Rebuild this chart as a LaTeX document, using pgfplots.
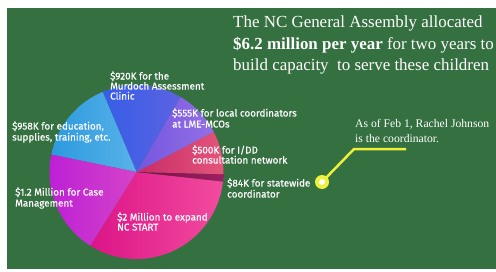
\documentclass[border=0pt]{standalone}
\usepackage{pgfplots}
\usepackage{pgfplotstable}
\pgfplotsset{compat=1.18}
\usepackage{fontspec}
\setmainfont{Liberation Serif}
\newfontfamily\labelfont[FakeBold=0.5]{Fira Sans}

\definecolor{bgc}{HTML}{357040}
\definecolor{yellowc}{HTML}{EEF03C}
% slice colours (left / right of the gradient), in drawing order
\definecolor{lc0}{HTML}{DC1488}\definecolor{rc0}{HTML}{F24C9E}% $2M
\definecolor{lc1}{HTML}{7A0E46}\definecolor{rc1}{HTML}{9C2060}% $84K
\definecolor{lc2}{HTML}{C82C66}\definecolor{rc2}{HTML}{E4557C}% $500K
\definecolor{lc3}{HTML}{7456E0}\definecolor{rc3}{HTML}{9470E4}% $555K
\definecolor{lc4}{HTML}{365EE6}\definecolor{rc4}{HTML}{5C62E2}% $920K
\definecolor{lc5}{HTML}{2C9ADE}\definecolor{rc5}{HTML}{58B2E8}% $958K
\definecolor{lc6}{HTML}{BC1ED6}\definecolor{rc6}{HTML}{D444C8}% $1.2M

\pgfplotstableread{
value
2000
84
500
555
920
958
1200
}\piedata

\newcommand\lbl[3]{\node[anchor=base west,inner sep=0pt,text=white,font=\labelfont\fontsize{9.9}{10.5}\selectfont] at (axis cs:#1,#2) {#3};}

\begin{document}
\begin{tikzpicture}
% totals and angles from the table
\xdef\total{0}
\foreach \i in {0,...,6}{%
  \pgfplotstablegetelem{\i}{value}\of\piedata
  \pgfmathsetmacro\t{\total+\pgfplotsretval}%
  \xdef\total{\t}}
\xdef\cum{237.9}
\foreach \i in {0,...,6}{%
  \pgfplotstablegetelem{\i}{value}\of\piedata
  \pgfmathsetmacro\e{\cum+\pgfplotsretval/\total*360}%
  \expandafter\xdef\csname sa\i\endcsname{\cum}%
  \expandafter\xdef\csname ea\i\endcsname{\e}%
  \xdef\cum{\e}}
\begin{axis}[
  width=496bp, height=269bp, scale only axis,
  xmin=0, xmax=496, ymin=0, ymax=269, y dir=reverse,
  hide axis, clip=false]
\fill[white] (axis cs:0,0) rectangle (axis cs:496,269);
\fill[bgc] (axis cs:7,8) rectangle (axis cs:496,269);
\pgfplotsinvokeforeach{0,...,6}{%
  \shade[left color=lc#1, right color=rc#1]
    (axis cs:136.5,172) -- ++(\csname sa#1\endcsname:87bp)
    arc[start angle=\csname sa#1\endcsname, end angle=\csname ea#1\endcsname, radius=87bp] -- cycle;
}
% title
\node[anchor=base west,inner sep=0pt,text=white,font=\fontsize{17}{21}\selectfont] at (axis cs:233,28) {The NC General Assembly allocated};
\node[anchor=base west,inner sep=0pt,text=white,font=\fontsize{17}{21}\selectfont] at (axis cs:233,49) {\textbf{\$6.2 million per year} for two years to};
\node[anchor=base west,inner sep=0pt,text=white,font=\fontsize{17}{21}\selectfont] at (axis cs:233,70) {build capacity\ \ to serve these children};
% slice labels
\lbl{110}{79.5}{\$920K for the}
\lbl{110}{89.5}{Murdoch Assessment}
\lbl{110}{99.5}{Clinic}
\lbl{172}{116.5}{\$555K for local coordinators}
\lbl{172}{127.5}{at LME-MCOs}
\lbl{12}{129.5}{\$958K for education,}
\lbl{12}{140.5}{supplies, training, etc.}
\lbl{192}{153.5}{\$500K for I/DD}
\lbl{192}{163.5}{consultation network}
\lbl{227}{186.5}{\$84K for statewide}
\lbl{227}{197.5}{coordinator}
\lbl{15}{195.5}{\$1.2 Million for Case}
\lbl{15}{206.5}{Management}
\lbl{117}{220.5}{\$2 Million to expand}
\lbl{117}{230.5}{NC START}
% annotation
\draw[yellowc, line width=2.5bp] (axis cs:322,182) -- (axis cs:354,149) -- (axis cs:406,149);
\fill[yellowc] (axis cs:322,182) circle[radius=7bp];
\fill[white] (axis cs:322,182) circle[radius=3bp];
\node[anchor=base west,inner sep=0pt,text=white,font=\fontsize{11.7}{15}\selectfont] at (axis cs:355,127) {As of Feb 1, Rachel Johnson};
\node[anchor=base west,inner sep=0pt,text=white,font=\fontsize{11.7}{15}\selectfont] at (axis cs:355,142) {is the coordinator.};
\end{axis}
\end{tikzpicture}
\end{document}
